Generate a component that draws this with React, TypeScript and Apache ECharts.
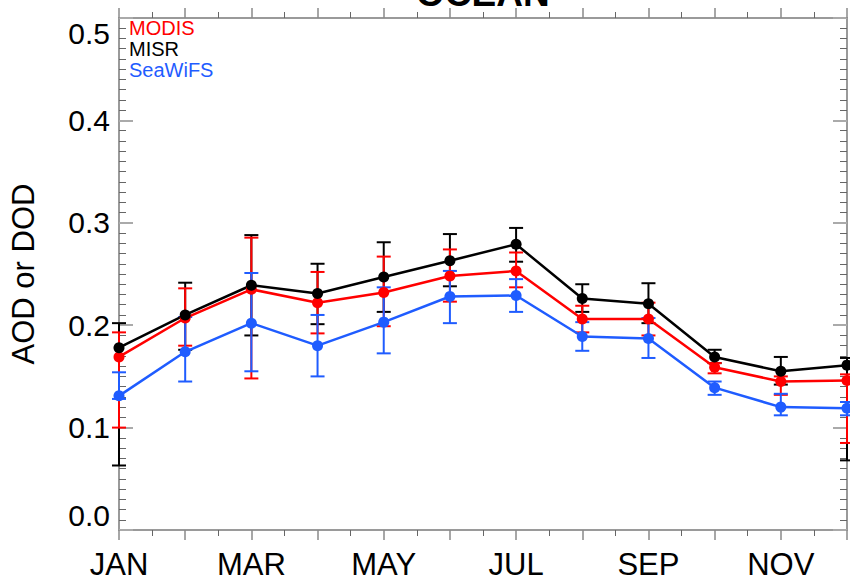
import React, { useEffect, useRef } from "react";
import * as echarts from "echarts";

const months = ["JAN", "FEB", "MAR", "APR", "MAY", "JUN", "JUL", "AUG", "SEP", "OCT", "NOV", "DEC"];
const seriesNames = ["MODIS", "MISR", "SeaWiFS"];
const seriesColors = ["#ff0000", "#000000", "#1f5cff"];

const modis = [0.169, 0.207, 0.235, 0.222, 0.232, 0.248, 0.253, 0.206, 0.206, 0.159, 0.145, 0.146];
const misr = [0.178, 0.21, 0.239, 0.231, 0.247, 0.263, 0.279, 0.226, 0.221, 0.169, 0.155, 0.161];
const seawifs = [0.131, 0.174, 0.202, 0.18, 0.203, 0.228, 0.229, 0.189, 0.187, 0.139, 0.12, 0.119];

const modisLow = [0.1, 0.18, 0.148, 0.192, 0.199, 0.223, 0.237, 0.193, 0.19, 0.153, 0.132, 0.085];
const modisHigh = [0.193, 0.236, 0.2855, 0.252, 0.267, 0.274, 0.271, 0.219, 0.222, 0.163, 0.15, 0.152];
const misrLow = [0.063, 0.176, 0.19, 0.201, 0.213, 0.238, 0.262, 0.213, 0.202, 0.163, 0.142, 0.068];
const misrHigh = [0.202, 0.2415, 0.288, 0.26, 0.281, 0.289, 0.295, 0.24, 0.241, 0.176, 0.169, 0.168];
const seawifsLow = [0.128, 0.145, 0.155, 0.15, 0.1725, 0.202, 0.213, 0.175, 0.168, 0.132, 0.112, 0.112];
const seawifsHigh = [0.154, 0.208, 0.251, 0.21, 0.237, 0.253, 0.245, 0.203, 0.207, 0.145, 0.133, 0.125];

const yTicks = [0, 0.1, 0.2, 0.3, 0.4, 0.5];
const titleText = "OCEAN";
const yTitle = "AOD or DOD";

const FONT = "'Liberation Sans', Arial, Helvetica, sans-serif";

function lineSeries(name: string, color: string, vals: number[]) {
  return {
    name,
    type: "line",
    data: vals.map((v, i) => [i, v]),
    symbol: "circle",
    symbolSize: 11,
    lineStyle: { color, width: 2.5 },
    itemStyle: { color },
    z: 3,
  };
}

function errSeries(name: string, color: string, lo: number[], hi: number[]) {
  return {
    name: name + " err",
    type: "custom",
    data: lo.map((l, i) => [i, l, hi[i]]),
    encode: { x: 0, y: [1, 2] },
    z: 2,
    renderItem: (params: any, api: any) => {
      const x = api.value(0);
      const pLo = api.coord([x, api.value(1)]);
      const pHi = api.coord([x, api.value(2)]);
      const hw = 7;
      const st = { stroke: color, lineWidth: 2 };
      return {
        type: "group",
        children: [
          { type: "line", shape: { x1: pLo[0], y1: pLo[1], x2: pHi[0], y2: pHi[1] }, style: st },
          { type: "line", shape: { x1: pLo[0] - hw, y1: pLo[1], x2: pLo[0] + hw, y2: pLo[1] }, style: st },
          { type: "line", shape: { x1: pHi[0] - hw, y1: pHi[1], x2: pHi[0] + hw, y2: pHi[1] }, style: st },
        ],
      };
    },
  };
}

export default function App() {
  const ref = useRef<HTMLDivElement>(null);
  useEffect(() => {
    if (!ref.current) return;
    const chart = echarts.init(ref.current, null, { renderer: "svg" });
    const axisLine = { show: true, onZero: false, lineStyle: { color: "#9a9a9a", width: 2 } };
    const xCommon = {
      type: "value",
      min: 0,
      max: months.length - 1,
      interval: 1,
      axisLine,
      axisTick: { show: true, inside: false, length: 10, lineStyle: { color: "#8a8a8a", width: 1.5 } },
      minorTick: { show: true, splitNumber: 2, length: 6, lineStyle: { color: "#666", width: 1 } },
      splitLine: { show: false },
      minorSplitLine: { show: false },
    };
    const yCommon = {
      type: "value",
      min: yTicks[0],
      max: yTicks[yTicks.length - 1],
      interval: 0.1,
      axisLine,
      axisTick: { show: true, inside: true, length: 14, lineStyle: { color: "#aaaaaa", width: 2 } },
      minorTick: { show: true, splitNumber: 10, length: 7, lineStyle: { color: "#666", width: 1 } },
      splitLine: { show: false },
      minorSplitLine: { show: false },
    };
    const series: any[] = [
      errSeries(seriesNames[1], seriesColors[1], misrLow, misrHigh),
      errSeries(seriesNames[0], seriesColors[0], modisLow, modisHigh),
      errSeries(seriesNames[2], seriesColors[2], seawifsLow, seawifsHigh),
      lineSeries(seriesNames[0], seriesColors[0], modis),
      lineSeries(seriesNames[1], seriesColors[1], misr),
      lineSeries(seriesNames[2], seriesColors[2], seawifs),
    ];
    chart.setOption({
      animation: false,
      backgroundColor: "#ffffff",
      grid: { left: 116, right: 1, top: 18, bottom: 54, containLabel: false },
      xAxis: [
        {
          ...xCommon,
          position: "bottom",
          axisLabel: {
            show: true,
            formatter: (v: number) => (v % 2 === 0 ? months[v] : ""),
            fontSize: 31,
            color: "#000",
            fontFamily: FONT,
            margin: 19,
          },
        },
        { ...xCommon, position: "top", axisLabel: { show: false } },
      ],
      yAxis: [
        {
          ...yCommon,
          position: "left",
          name: yTitle,
          nameLocation: "middle",
          nameRotate: 90,
          nameGap: 80,
          nameTextStyle: { fontSize: 31, color: "#000", fontFamily: FONT },
          axisLabel: {
            show: true,
            formatter: (v: number) => v.toFixed(1),
            fontSize: 30,
            color: "#000",
            fontFamily: FONT,
            margin: 9,
            verticalAlignMinLabel: "bottom",
            verticalAlignMaxLabel: "top",
          },
        },
        { ...yCommon, position: "right", axisLabel: { show: false } },
      ],
      graphic: [
        {
          type: "text",
          left: 416,
          top: -25,
          style: { text: titleText, fill: "#000", font: "bold 37px " + FONT },
        },
        ...seriesNames.map((n, i) => ({
          type: "text",
          left: 129,
          top: 18 + i * 21,
          style: { text: n, fill: seriesColors[i], font: "20px " + FONT },
        })),
      ],
      series,
    });
    return () => chart.dispose();
  }, []);
  return <div ref={ref} style={{ position: "fixed", left: 0, top: 0, width: 850, height: 584 }} />;
}
